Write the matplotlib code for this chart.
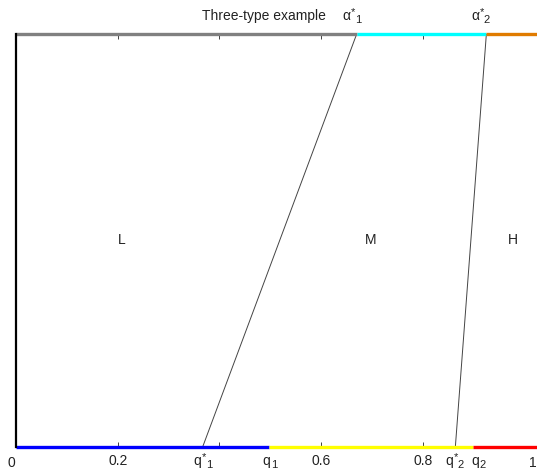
import matplotlib
matplotlib.use('Agg')
import matplotlib.pyplot as plt
from matplotlib.transforms import offset_copy

plt.rcParams['font.family'] = ['Liberation Sans', 'DejaVu Sans']

# thresholds
q_star = [0.367, 0.864]      # q*_1, q*_2 on the bottom axis
q_cut = [0.497, 0.898]       # q_1, q_2
alpha_star = [0.670, 0.925]  # alpha*_1, alpha*_2 on the top line

bottom_colors = ['#0000ff', '#ffff00', '#ff0000']
top_colors = ['#808080', '#00ffff', '#e07b00']

region_names = ['L', 'M', 'H']
region_x = [0.208, 0.698, 0.977]

tick_pos = [0.2, 0.4, 0.6, 0.8]
tick_lab = ['0.2', '', '0.6', '0.8']

x_end = 1.05
fs = 10
tc = '#222222'

fig = plt.figure(figsize=(5.37, 4.70), dpi=100)
ax = fig.add_axes([16 / 537, 23 / 470, 521 / 537, 413 / 470])
ax.set_xlim(0, 521 / 508.5)
ax.set_ylim(0, 1)

# coloured segments along bottom and top
b_edges = [0] + q_cut + [x_end]
t_edges = [0] + alpha_star + [x_end]
for i in range(3):
    ax.plot(b_edges[i:i + 2], [0, 0], color=bottom_colors[i], lw=2.4,
            solid_capstyle='butt', clip_on=False, zorder=3)
    ax.plot(t_edges[i:i + 2], [1, 1], color=top_colors[i], lw=2.4,
            solid_capstyle='butt', clip_on=False, zorder=3)

# the two boundary lines
for qs, a in zip(q_star, alpha_star):
    ax.plot([qs, a], [0, 1], color='#444444', lw=0.7, zorder=2)

# left axis line
ax.plot([0, 0], [0, 1], color='black', lw=1.6, clip_on=False, zorder=4)

for name, xx in zip(region_names, region_x):
    ax.text(xx, 0.5, name, ha='center', va='center', fontsize=fs, color=tc)

for s in ax.spines.values():
    s.set_visible(False)
ax.set_yticks([])
ax.set_xticks(tick_pos)
ax.set_xticklabels(tick_lab, fontsize=fs, color=tc)
ax.tick_params(axis='x', direction='in', length=3.5, width=0.6,
               top=True, bottom=True, pad=5, color=tc)

ax.text(-0.009, -0.022, '0', ha='center', va='top', fontsize=fs, color=tc)
ax.text(1.016, -0.022, '1', ha='center', va='top', fontsize=fs, color=tc)


def sym_label(x, y, base, sub, star, dx0, base_w):
    # base letter, then a raised star and a lowered index, side by side
    tr = offset_copy(ax.transData, fig=fig, x=dx0, y=0, units='dots')
    ax.text(x, y, base, transform=tr, ha='left', va='baseline',
            fontsize=fs, color=tc)
    xo = dx0 + base_w
    if star:
        tr = offset_copy(ax.transData, fig=fig, x=xo, y=5, units='dots')
        ax.text(x, y, '*', transform=tr, ha='left', va='baseline',
                fontsize=8, color=tc)
        xo += 4
    tr = offset_copy(ax.transData, fig=fig, x=xo, y=-3, units='dots')
    ax.text(x, y, sub, transform=tr, ha='left', va='baseline',
            fontsize=8, color=tc)


yb = -0.0436
sym_label(q_star[0], yb, 'q', '1', True, -9, 8)
sym_label(q_cut[0], yb, 'q', '1', False, -6, 8)
sym_label(q_star[1], yb, 'q', '2', True, -10, 8)
sym_label(q_cut[1], yb, 'q', '2', False, -1, 8)

ya = 1.033
sym_label(alpha_star[0], ya, '\u03b1', '1', True, -14, 8)
sym_label(alpha_star[1], ya, '\u03b1', '2', True, -15, 8)

fig.text(264 / 537, 1 - 16 / 470, 'Three-type example', ha='center',
         va='center', fontsize=fs, color=tc)

fig.savefig('out.png', dpi=100)
